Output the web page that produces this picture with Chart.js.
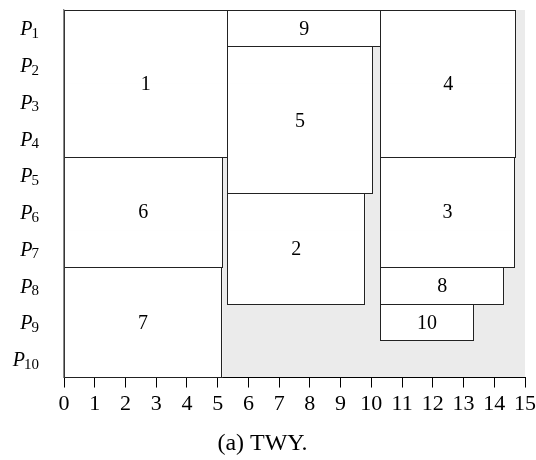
<!DOCTYPE html>
<html>
<head>
<meta charset="utf-8">
<style>
    html, body { margin: 0; padding: 0; background: #ffffff; }
    #wrap { width: 536px; height: 460px; }
</style>
</head>
<body>
<div id="wrap"><canvas id="chart_twy" width="536" height="460"></canvas></div>
<script src="https://cdn.jsdelivr.net/npm/chart.js@4.4.0/dist/chart.umd.min.js"></script>
<script>
// processors (rows, top to bottom)
const processors = ["P1", "P2", "P3", "P4", "P5", "P6", "P7", "P8", "P9", "P10"];
const procSubscripts = ["1", "2", "3", "4", "5", "6", "7", "8", "9", "10"];

// tasks: time span and processor range (1-based, inclusive)
const tasks = ["1", "2", "3", "4", "5", "6", "7", "8", "9", "10"];
const taskStart = [0, 5.32, 10.31, 10.31, 5.32, 0, 0, 10.31, 5.32, 10.31];
const taskEnd = [5.32, 9.79, 14.65, 14.7, 10.03, 5.16, 5.14, 14.31, 10.31, 13.32];
const taskFirstProc = [1, 6, 5, 1, 2, 5, 8, 8, 1, 9];
const taskLastProc = [4, 8, 7, 4, 5, 7, 10, 8, 1, 9];

const timeMin = 0;
const timeMax = 15;
const caption = "(a) TWY.";

const serif = "'Liberation Serif', 'Times New Roman', serif";

// one bar per processor row covered by the task
const datasets = tasks.map((task, i) => {
    const data = processors.map((p, r) => {
        const row = r + 1;
        if (row >= taskFirstProc[i] && row <= taskLastProc[i]) {
            return [taskStart[i], taskEnd[i]];
        }
        return null;
    });
    return {
        label: task,
        data: data,
        backgroundColor: "#ffffff",
        borderWidth: 0,
    };
});

const crisp = (v) => Math.round(v - 0.5) + 0.5;

// light gray behind the schedule
const plotBackground = {
    id: "plotBackground",
    beforeDraw(chart) {
        const { ctx, chartArea } = chart;
        ctx.save();
        ctx.fillStyle = "#ebebeb";
        ctx.fillRect(chartArea.left, chartArea.top,
            chartArea.right - chartArea.left, chartArea.bottom - chartArea.top);
        ctx.restore();
    },
};

// outline each task block, using the bar elements of its first and last row
const taskOutlines = {
    id: "taskOutlines",
    afterDraw(chart) {
        const ctx = chart.ctx;
        ctx.save();
        ctx.strokeStyle = "#222222";
        ctx.lineWidth = 1;
        tasks.forEach((task, i) => {
            const meta = chart.getDatasetMeta(i);
            const first = meta.data[taskFirstProc[i] - 1].getProps(["x", "y", "base", "height"], true);
            const last = meta.data[taskLastProc[i] - 1].getProps(["x", "y", "base", "height"], true);
            const left = crisp(Math.min(first.base, first.x));
            const right = crisp(Math.max(first.base, first.x));
            const top = crisp(first.y - first.height / 2);
            const bottom = crisp(last.y + last.height / 2);
            ctx.strokeRect(left, top, right - left, bottom - top);
        });
        ctx.restore();
        // keep the gray left axis line on top
        chart.scales.y.drawBorder();
    },
};

// task numbers in the middle of each block
const taskLabels = {
    id: "taskLabels",
    afterDraw(chart) {
        const ctx = chart.ctx;
        const xScale = chart.scales.x;
        const yScale = chart.scales.y;
        ctx.save();
        ctx.font = "20px " + serif;
        ctx.fillStyle = "#000000";
        ctx.textAlign = "center";
        ctx.textBaseline = "middle";
        tasks.forEach((task, i) => {
            const x = xScale.getPixelForValue((taskStart[i] + taskEnd[i]) / 2);
            const y = (yScale.getPixelForValue(taskFirstProc[i] - 1) +
                yScale.getPixelForValue(taskLastProc[i] - 1)) / 2;
            ctx.fillText(task, x, y + 1);
        });
        ctx.restore();
    },
};

// P with subscript on the left
const procLabels = {
    id: "procLabels",
    afterDraw(chart) {
        const ctx = chart.ctx;
        const yScale = chart.scales.y;
        const right = chart.chartArea.left - 25;
        ctx.save();
        ctx.fillStyle = "#000000";
        ctx.textBaseline = "alphabetic";
        ctx.textAlign = "left";
        processors.forEach((p, r) => {
            const y = yScale.getPixelForValue(r);
            ctx.font = "15px " + serif;
            const subW = ctx.measureText(procSubscripts[r]).width;
            ctx.font = "italic 20px " + serif;
            const pW = ctx.measureText("P").width;
            const x0 = right - subW - pW + 1;
            ctx.fillText("P", x0, y + 7);
            ctx.font = "15px " + serif;
            ctx.fillText(procSubscripts[r], x0 + pW - 1, y + 9.5);
        });
        ctx.restore();
    },
};

var chartEl = document.getElementById("chart_twy");
if (chartEl != null) {
    var twyCtx = chartEl.getContext("2d");
    var twyChart = new Chart(twyCtx, {
        type: "bar",
        data: {
            labels: processors,
            datasets: datasets,
        },
        options: {
            indexAxis: "y",
            responsive: false,
            animation: false,
            devicePixelRatio: 1,
            grouped: false,
            categoryPercentage: 1,
            barPercentage: 1,
            layout: {
                padding: { top: 10, right: 11, bottom: 2, left: 0 },
            },
            scales: {
                x: {
                    type: "linear",
                    position: "bottom",
                    min: timeMin,
                    max: timeMax,
                    ticks: {
                        stepSize: 1,
                        color: "#000000",
                        padding: 0,
                        font: { family: serif, size: 22, lineHeight: 1.53 },
                    },
                    grid: {
                        display: true,
                        drawOnChartArea: false,
                        drawTicks: true,
                        tickLength: 10,
                        color: "#000000",
                    },
                    border: { display: true, color: "#000000", width: 1 },
                },
                y: {
                    type: "category",
                    ticks: { display: false },
                    grid: { display: false },
                    border: { display: true, color: "#888888", width: 1.2 },
                    afterFit: function (scale) {
                        scale.width = 64;
                    },
                },
            },
            plugins: {
                legend: { display: false },
                tooltip: { enabled: false },
                title: {
                    display: true,
                    text: caption,
                    position: "bottom",
                    color: "#000000",
                    font: { family: serif, size: 24, weight: "normal" },
                    padding: { top: 8, bottom: 0 },
                },
            },
        },
        plugins: [plotBackground, taskOutlines, taskLabels, procLabels],
    });
}
</script>
</body>
</html>
